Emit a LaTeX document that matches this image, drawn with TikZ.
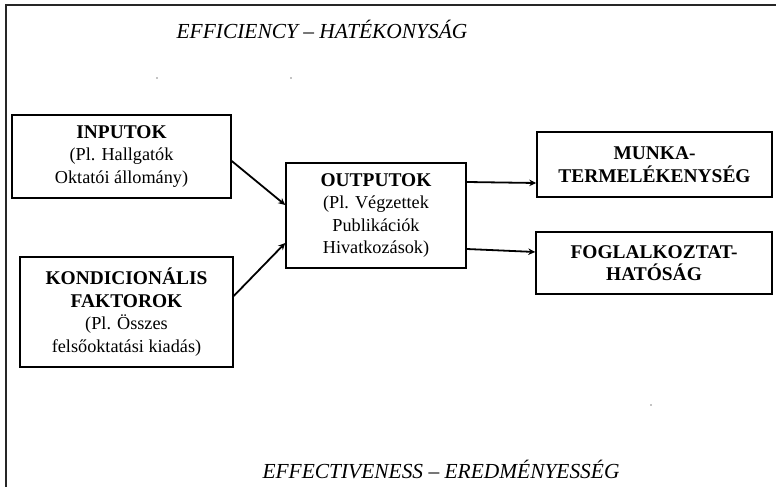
\documentclass[tikz,border=0pt]{standalone}
\usepackage{fontspec}
\setmainfont{Liberation Serif}
\usetikzlibrary{arrows.meta,calc}
\newcommand{\bt}[1]{{\fontsize{19.5}{22.5}\selectfont\bfseries #1}}
\tikzset{
  box/.style={draw=black, line width=1.5bp, rectangle, align=center, inner sep=0pt,
    font=\fontsize{18.3}{22.5}\selectfont},
  conn/.style={line width=1.8bp, -{Stealth[length=7bp,width=6.5bp]}},
  heading/.style={font=\fontsize{21.5}{26}\selectfont\itshape, inner sep=0pt},
  frameline/.style={line width=1.6bp, black!85}
}
\begin{document}
\begin{tikzpicture}[x=1bp,y=-1bp]
\useasboundingbox (0,0) rectangle (776,487);
\fill[white] (0,0) rectangle (776,487);
% frame
\coordinate (ftl) at (6,5);
\coordinate (ftr) at (776,5);
\coordinate (fbl) at (6,487);
\draw[frameline] (fbl) -- (ftl) -- (ftr);
% headings
\node[heading] (eff) at (322,29) {EFFICIENCY – HATÉKONYSÁG};
\node[heading] (effv) at (441,469) {EFFECTIVENESS – EREDMÉNYESSÉG};
% boxes
\node[box, minimum width=219bp, minimum height=83bp] (in) at (121.5,156.5)
  {\bt{INPUTOK}\\(Pl. Hallgatók\\Oktatói állomány)};
\node[box, minimum width=213bp, minimum height=110bp] (kf) at (126.5,312)
  {\bt{KONDICIONÁLIS}\\\bt{FAKTOROK}\\(Pl. Összes\\felsőoktatási kiadás)};
\node[box, minimum width=180bp, minimum height=105bp] (out) at (376,215.5)
  {\bt{OUTPUTOK}\\(Pl. Végzettek\\Publikációk\\Hivatkozások)};
\node[box, minimum width=235bp, minimum height=65bp] (mu) at (654.5,164.5)
  {\bt{MUNKA-}\\\bt{TERMELÉKENYSÉG}};
\node[box, minimum width=236bp, minimum height=62bp] (fo) at (654,263)
  {\bt{FOGLALKOZTAT-}\\\bt{HATÓSÁG}};
% connectors
\draw[conn] ($(in.east)+(0,4.5)$) -- ($(out.west)+(0,-10.5)$);
\draw[conn] ($(kf.east)+(0,-16)$) -- ($(out.west)+(0,27.5)$);
\draw[conn] ($(out.east)+(0,-33.5)$) -- ($(mu.west)+(0,18.5)$);
\draw[conn] ($(out.east)+(0,33.5)$) -- ($(fo.west)+(0,-11)$);
% stray dots
\fill (157,78) circle (0.7);
\fill (291,78) circle (0.7);
\fill (651,405) circle (0.7);
\end{tikzpicture}
\end{document}
